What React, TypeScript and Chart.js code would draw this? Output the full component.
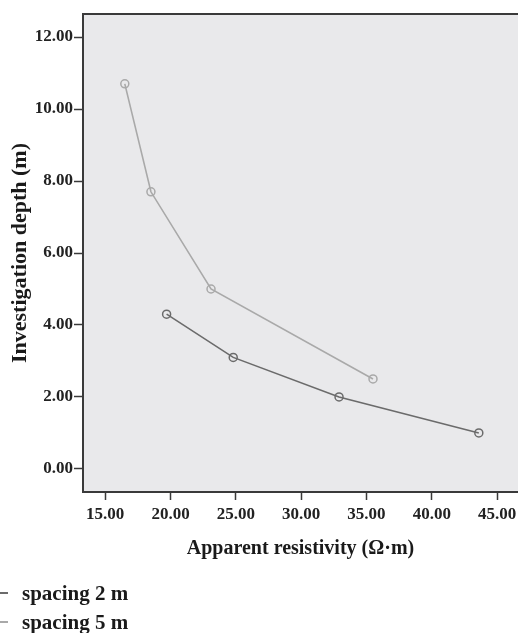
import React, { useEffect, useRef } from "react";
import { Chart, registerables } from "chart.js";

Chart.register(...registerables);

const seriesNames = ["spacing 2 m", "spacing 5 m"];
const resistivity2m = [19.7, 24.8, 32.9, 43.6];
const depth2m = [4.3, 3.1, 2.0, 1.0];
const resistivity5m = [16.5, 18.5, 23.1, 35.5];
const depth5m = [10.7, 7.7, 5.0, 2.5];
const xTickValues = [15, 20, 25, 30, 35, 40, 45];
const yTickValues = [0, 2, 4, 6, 8, 10, 12];

const colors = ["#6b6b6b", "#a9a9a9"];
const FONT = "'Liberation Serif', 'DejaVu Serif', serif";

const plotFrame = {
  id: "plotFrame",
  beforeDraw(chart: any) {
    const { ctx, chartArea } = chart;
    ctx.save();
    ctx.fillStyle = "#e9e9eb";
    ctx.fillRect(chartArea.left, chartArea.top, chartArea.right - chartArea.left, chartArea.bottom - chartArea.top);
    ctx.restore();
  },
  afterDraw(chart: any) {
    const { ctx, chartArea } = chart;
    ctx.save();
    ctx.strokeStyle = "#3a3a3a";
    ctx.lineWidth = 2;
    ctx.beginPath();
    ctx.moveTo(chartArea.left - 1, chartArea.top);
    ctx.lineTo(chartArea.right, chartArea.top);
    ctx.stroke();
    ctx.restore();
  },
};

export default function App() {
  const ref = useRef<HTMLCanvasElement>(null);

  useEffect(() => {
    if (!ref.current) return;
    const mk = (xs: number[], ys: number[]) => xs.map((x, i) => ({ x, y: ys[i] }));
    const chart = new Chart(ref.current, {
      type: "line",
      data: {
        datasets: [
          {
            label: seriesNames[0],
            data: mk(resistivity2m, depth2m),
            borderColor: colors[0],
            backgroundColor: "rgba(0,0,0,0)",
            pointBorderColor: colors[0],
            pointBackgroundColor: "rgba(0,0,0,0)",
            borderWidth: 1.6,
            pointRadius: 4,
            pointBorderWidth: 1.5,
            tension: 0,
          },
          {
            label: seriesNames[1],
            data: mk(resistivity5m, depth5m),
            borderColor: colors[1],
            backgroundColor: "rgba(0,0,0,0)",
            pointBorderColor: colors[1],
            pointBackgroundColor: "rgba(0,0,0,0)",
            borderWidth: 1.6,
            pointRadius: 4,
            pointBorderWidth: 1.5,
            tension: 0,
          },
        ],
      },
      options: {
        responsive: false,
        animation: false,
        devicePixelRatio: 1,
        layout: { autoPadding: false, padding: { left: 0, top: 14, right: 0, bottom: 71 } },
        plugins: { legend: { display: false }, tooltip: { enabled: false } },
        scales: {
          x: {
            type: "linear",
            min: 13.3,
            max: 46.6,
            afterBuildTicks: (s: any) => {
              s.ticks = xTickValues.map((v) => ({ value: v }));
            },
            afterFit: (s: any) => {
              s.height = 70;
              s.paddingRight = 0;
              s.paddingLeft = 0;
            },
            ticks: {
              autoSkip: false,
              maxRotation: 0,
              padding: 4,
              color: "#222",
              font: { family: FONT, size: 17, weight: "bold" },
              callback: (v: any) => Number(v).toFixed(2),
            },
            grid: { drawOnChartArea: false, drawTicks: true, tickLength: 8, tickColor: "#3a3a3a", tickWidth: 1.5 },
            border: { display: true, color: "#3a3a3a", width: 2 },
            title: {
              display: true,
              text: "Apparent resistivity (Ω·m)",
              color: "#1a1a1a",
              font: { family: FONT, size: 20, weight: "bold" },
              padding: { top: 0, bottom: 1 },
            },
          },
          y: {
            type: "linear",
            min: -0.64,
            max: 12.64,
            afterBuildTicks: (s: any) => {
              s.ticks = yTickValues.map((v) => ({ value: v }));
            },
            afterFit: (s: any) => {
              s.width = 83;
              s.paddingTop = 0;
              s.paddingBottom = 0;
            },
            ticks: {
              autoSkip: false,
              padding: 1,
              color: "#222",
              font: { family: FONT, size: 17, weight: "bold" },
              callback: (v: any) => Number(v).toFixed(2),
            },
            grid: { drawOnChartArea: false, drawTicks: true, tickLength: 9, tickColor: "#3a3a3a", tickWidth: 1.5 },
            border: { display: true, color: "#3a3a3a", width: 2 },
            title: {
              display: true,
              text: "Investigation depth (m)",
              color: "#1a1a1a",
              font: { family: FONT, size: 22, weight: "bold" },
              padding: { top: 7, bottom: 0 },
            },
          },
        },
      },
      plugins: [plotFrame],
    });
    return () => chart.destroy();
  }, []);

  return (
    <div style={{ position: "absolute", left: 0, top: 0, width: 518, height: 633, background: "#fff", overflow: "hidden" }}>
      <canvas ref={ref} width={518} height={633} style={{ position: "absolute", left: 0, top: 0 }} />
      {seriesNames.map((name, i) => (
        <div
          key={name}
          style={{
            position: "absolute",
            left: 0,
            top: 581 + i * 29,
            height: 24,
            display: "flex",
            alignItems: "center",
            fontFamily: FONT,
            fontWeight: "bold",
            fontSize: 21,
            color: "#1a1a1a",
            whiteSpace: "nowrap",
          }}
        >
          <span style={{ display: "inline-block", width: 8, height: 2, background: colors[i], marginRight: 14 }} />
          <span>{name}</span>
        </div>
      ))}
    </div>
  );
}
